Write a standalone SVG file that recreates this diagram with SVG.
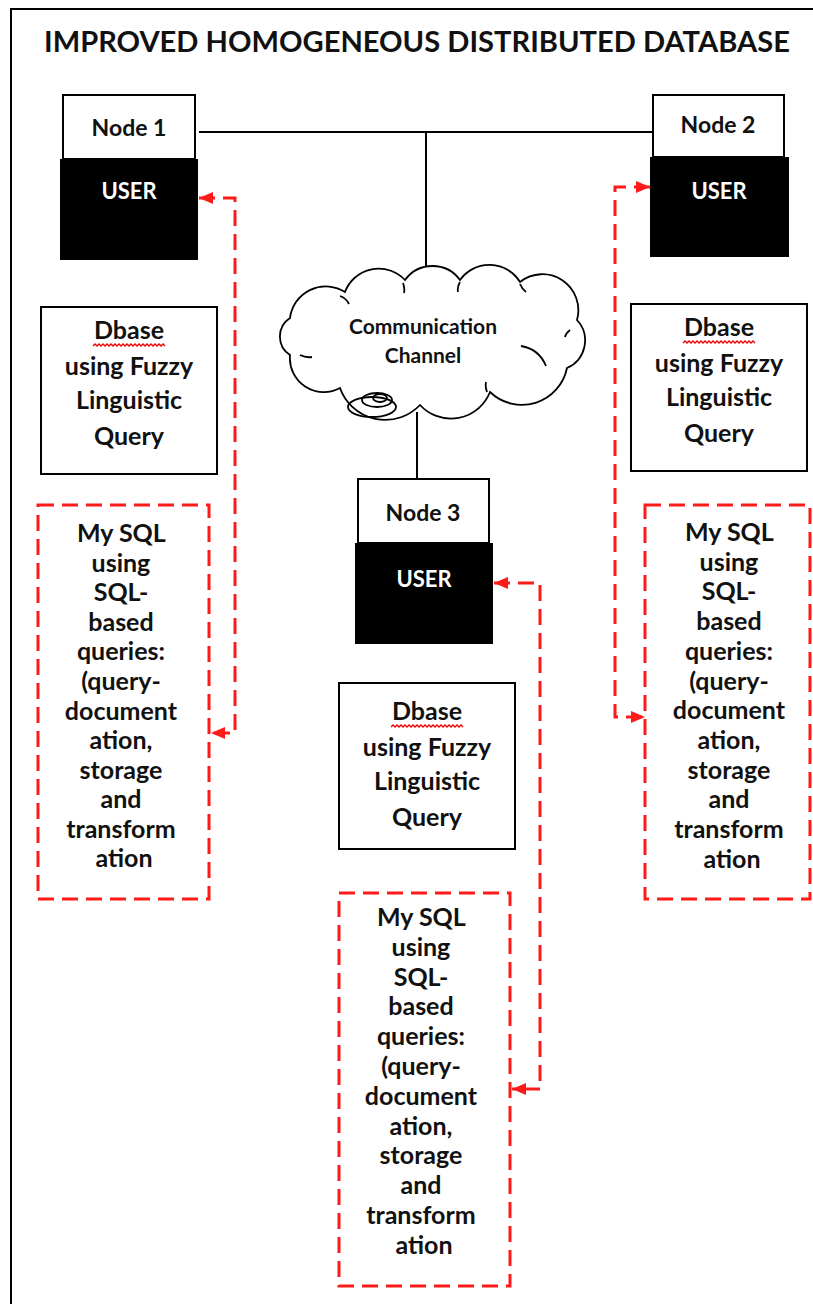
<svg xmlns="http://www.w3.org/2000/svg" xmlns:xlink="http://www.w3.org/1999/xlink" width="813" height="1304" viewBox="0 0 813 1304">
<style>
text { font-family: Lato, "Liberation Sans", "DejaVu Sans", sans-serif; fill: #111; }
.t { font-size: 25px; font-weight: 700; text-anchor: middle; }
.nt { font-size: 23px; font-weight: 700; text-anchor: middle; }
.ut { fill: #fff; font-size: 22px; font-weight: 700; text-anchor: middle; }
.ct { font-size: 21px; font-weight: 700; text-anchor: middle; }
.lbl { fill: #fff; stroke: #000; stroke-width: 2; }
.user { fill: #000; }
.box { fill: #fff; stroke: #000; stroke-width: 2; }
.dbox { fill: none; stroke: #ff1a1a; stroke-width: 3; stroke-dasharray: 16 8; }
.conn { fill: none; stroke: #ff1a1a; stroke-width: 3; stroke-dasharray: 16 8; marker-start: url(#ah); marker-end: url(#ah); }
.line { fill: none; stroke: #000; stroke-width: 2; }
.cl { fill: none; stroke: #000; stroke-width: 1.8; }
.sq { fill: none; stroke: #e00; stroke-width: 1.3; }
</style>
<defs>
<marker id="ah" viewBox="0 0 14 12" refX="14" refY="6" markerWidth="14" markerHeight="12" markerUnits="userSpaceOnUse" orient="auto-start-reverse">
<path d="M0,0 L14,6 L0,12 z" fill="#ff1a1a"/>
</marker>
<path id="sq" class="sq" d="M0 2 l2 -2 l2 2 l2 -2 l2 2 l2 -2 l2 2 l2 -2 l2 2 l2 -2 l2 2 l2 -2 l2 2 l2 -2 l2 2 l2 -2 l2 2 l2 -2 l2 2 l2 -2 l2 2 l2 -2 l2 2 l2 -2 l2 2 l2 -2 l2 2 l2 -2 l2 2 l2 -2 l2 2 l2 -2 l2 2 l2 -2 l2 2 l2 -2 l2 2"/>
</defs>
<rect x="0" y="0" width="813" height="1304" fill="#fff"/>
<rect x="11" y="9" width="900" height="1400" fill="none" stroke="#000" stroke-width="2"/>
<text x="44" y="52" textLength="746" lengthAdjust="spacingAndGlyphs" style="font-size:28px;font-weight:700">IMPROVED HOMOGENEOUS DISTRIBUTED DATABASE</text>

<g id="connectors">
<path class="line" d="M199,132 H652"/>
<path class="line" d="M426,132 V270"/>
<path class="line" d="M417,412 V479"/>
<path class="conn" d="M199,198 H235 V733 H211"/>
<path class="conn" d="M650,187 H615 V717 H645"/>
<path class="conn" d="M494,583 H540 V1089 H512"/>
</g>

<g id="cloud">
<path class="cl" d="M290,318 A36,36 0 0 1 345,292 A36,36 0 0 1 405,280 A34,34 0 0 1 460,280 A36,36 0 0 1 520,282 A36,36 0 0 1 577,320 A30,30 0 0 1 567,368 A46,46 0 0 1 490,392 A42,42 0 0 1 420,405 A48,48 0 0 1 340,388 A34,34 0 0 1 290,355 A22,22 0 0 1 290,318 Z" style="fill:#fff"/>
<path class="cl" d="M340,296 q6,2 9,8 M403,283 q2,5 1,10 M460,282 q-3,5 -2,10 M520,284 q2,5 6,8 M570,330 q-4,3 -5,7 M521,346 q18,3 25,20 M487,392 q-2,-5 -1,-10 M300,355 q6,3 12,2"/>
<ellipse class="cl" cx="372" cy="407" rx="24" ry="10"/>
<ellipse class="cl" cx="377" cy="400" rx="15" ry="7"/>
<ellipse class="cl" cx="380" cy="398" rx="7" ry="4"/>
<text class="ct" x="423" y="334">Communication</text>
<text class="ct" x="423" y="363">Channel</text>
</g>

<g id="node1">
<rect class="user" x="60" y="159" width="138" height="101"/>
<rect class="lbl" x="63" y="95" width="132" height="64"/>
<text class="nt" x="129" y="136">Node 1</text>
<text class="ut" x="129" y="199">USER</text>
</g>

<g id="node2">
<rect class="user" x="650" y="157" width="139" height="100"/>
<rect class="lbl" x="653" y="95" width="131" height="62"/>
<text class="nt" x="718" y="133">Node 2</text>
<text class="ut" x="719" y="199">USER</text>
</g>

<g id="node3">
<rect class="user" x="355" y="543" width="138" height="101"/>
<rect class="lbl" x="358" y="479" width="131" height="64"/>
<text class="nt" x="423" y="521">Node 3</text>
<text class="ut" x="424" y="587">USER</text>
</g>

<g id="dbase1">
<rect class="box" x="41" y="307" width="176" height="167"/>
<text class="t" x="129" y="339">Dbase</text>
<use href="#sq" xlink:href="#sq" x="93" y="344"/>
<text class="t" x="129" y="375">using Fuzzy</text>
<text class="t" x="129" y="409">Linguistic</text>
<text class="t" x="129" y="445">Query</text>
</g>

<g id="dbase2">
<rect class="box" x="631" y="304" width="176" height="167"/>
<text class="t" x="719" y="336">Dbase</text>
<use href="#sq" xlink:href="#sq" x="683" y="341"/>
<text class="t" x="719" y="372">using Fuzzy</text>
<text class="t" x="719" y="406">Linguistic</text>
<text class="t" x="719" y="442">Query</text>
</g>

<g id="dbase3">
<rect class="box" x="339" y="683" width="176" height="166"/>
<text class="t" x="427" y="720">Dbase</text>
<use href="#sq" xlink:href="#sq" x="391" y="725"/>
<text class="t" x="427" y="756">using Fuzzy</text>
<text class="t" x="427" y="790">Linguistic</text>
<text class="t" x="427" y="826">Query</text>
</g>

<g id="mysql1">
<rect class="dbox" x="38" y="505" width="171" height="394"/>
<text class="t">
<tspan x="124" y="542">My SQL</tspan>
<tspan x="124" y="572">using</tspan>
<tspan x="124" y="601">SQL-</tspan>
<tspan x="124" y="631">based</tspan>
<tspan x="124" y="660">queries:</tspan>
<tspan x="124" y="690">(query-</tspan>
<tspan x="124" y="720">document</tspan>
<tspan x="124" y="749">ation,</tspan>
<tspan x="124" y="779">storage</tspan>
<tspan x="124" y="808">and</tspan>
<tspan x="124" y="838">transform</tspan>
<tspan x="124" y="867">ation</tspan>
</text>
</g>

<g id="mysql2">
<rect class="dbox" x="645" y="505" width="165" height="394"/>
<text class="t">
<tspan x="732" y="541">My SQL</tspan>
<tspan x="732" y="571">using</tspan>
<tspan x="732" y="600">SQL-</tspan>
<tspan x="732" y="630">based</tspan>
<tspan x="732" y="660">queries:</tspan>
<tspan x="732" y="690">(query-</tspan>
<tspan x="732" y="719">document</tspan>
<tspan x="732" y="749">ation,</tspan>
<tspan x="732" y="779">storage</tspan>
<tspan x="732" y="808">and</tspan>
<tspan x="732" y="838">transform</tspan>
<tspan x="732" y="868">ation</tspan>
</text>
</g>

<g id="mysql3">
<rect class="dbox" x="339" y="893" width="171" height="393"/>
<text class="t">
<tspan x="424" y="926">My SQL</tspan>
<tspan x="424" y="956">using</tspan>
<tspan x="424" y="986">SQL-</tspan>
<tspan x="424" y="1015">based</tspan>
<tspan x="424" y="1045">queries:</tspan>
<tspan x="424" y="1075">(query-</tspan>
<tspan x="424" y="1105">document</tspan>
<tspan x="424" y="1135">ation,</tspan>
<tspan x="424" y="1164">storage</tspan>
<tspan x="424" y="1194">and</tspan>
<tspan x="424" y="1224">transform</tspan>
<tspan x="424" y="1254">ation</tspan>
</text>
</g>
</svg>
